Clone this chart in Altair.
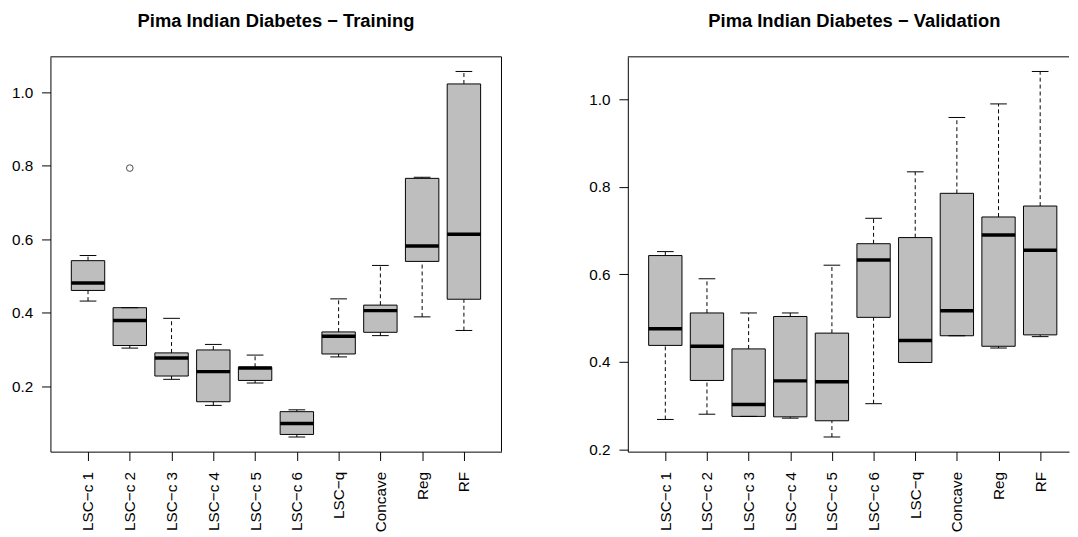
import altair as alt
import pandas as pd

methods = ["LSC−c 1", "LSC−c 2", "LSC−c 3", "LSC−c 4", "LSC−c 5",
           "LSC−c 6", "LSC−q", "Concave", "Reg", "RF"]

# Training panel (whisker low, Q1, median, Q3, whisker high)
train_low = [0.432, 0.304, 0.219, 0.148, 0.209, 0.062, 0.280, 0.338, 0.389, 0.352]
train_q1 = [0.461, 0.311, 0.228, 0.158, 0.216, 0.069, 0.288, 0.347, 0.540, 0.437]
train_med = [0.481, 0.379, 0.277, 0.240, 0.250, 0.099, 0.336, 0.406, 0.582, 0.614]
train_q3 = [0.542, 0.414, 0.291, 0.299, 0.252, 0.131, 0.348, 0.421, 0.766, 1.023]
train_up = [0.556, 0.414, 0.385, 0.314, 0.285, 0.136, 0.438, 0.529, 0.769, 1.057]
train_out_method = ["LSC−c 2"]
train_out_value = [0.794]

# Validation panel
val_low = [0.269, 0.281, 0.276, 0.272, 0.229, 0.305, 0.399, 0.460, 0.432, 0.458]
val_q1 = [0.438, 0.358, 0.276, 0.275, 0.266, 0.502, 0.399, 0.460, 0.436, 0.462]
val_med = [0.476, 0.436, 0.303, 0.357, 0.355, 0.633, 0.449, 0.517, 0.690, 0.655]
val_q3 = [0.643, 0.512, 0.430, 0.504, 0.466, 0.670, 0.684, 0.785, 0.731, 0.756]
val_up = [0.652, 0.590, 0.512, 0.512, 0.621, 0.728, 0.834, 0.958, 0.989, 1.063]
val_out_method = []
val_out_value = []

y_ticks = [0.2, 0.4, 0.6, 0.8, 1.0]
FONT = "Liberation Sans"
FILL = "#BEBEBE"
label_expr = "[" + ",".join("'%s'" % m for m in methods) + "][datum.value - 1]"


def panel(title, low, q1, med, q3, up, out_m, out_v, xdom, ydom, width, height,
          right_line, title_dx):
    df = pd.DataFrame({
        "method": methods,
        "pos": list(range(1, len(methods) + 1)),
        "low": low, "q1": q1, "med": med, "q3": q3, "up": up,
    })
    xscale = alt.Scale(domain=xdom, nice=False, zero=False)
    yscale = alt.Scale(domain=ydom, nice=False, zero=False)
    xaxis = alt.Axis(values=list(range(1, len(methods) + 1)), labelExpr=label_expr,
                     labelAngle=270, labelAlign="right", labelBaseline="middle",
                     labelFontSize=15.5, labelFont=FONT, labelColor="black",
                     tickSize=9, tickColor="black", labelPadding=11,
                     domain=True, domainColor="black", grid=False, title=None)
    yaxis = alt.Axis(values=y_ticks, format=".1f", labelFontSize=15.5, labelFont=FONT,
                     labelColor="black", tickSize=9, tickColor="black", labelPadding=9,
                     domain=True, domainColor="black", grid=False, title=None)

    def X(f):
        return alt.X(f, type="quantitative", scale=xscale, axis=xaxis, title=None)

    def Y(f):
        return alt.Y(f, type="quantitative", scale=yscale, axis=yaxis, title=None)

    base = alt.Chart(df).transform_calculate(
        bl="datum.pos - 0.4", br="datum.pos + 0.4",
        cl="datum.pos - 0.2", cr="datum.pos + 0.2")

    wl = base.mark_rule(color="black", strokeDash=[4, 3], strokeWidth=1).encode(
        x=X("pos"), y=Y("low"), y2="q1")
    wh = base.mark_rule(color="black", strokeDash=[4, 3], strokeWidth=1).encode(
        x=X("pos"), y=Y("q3"), y2="up")
    cap_lo = base.mark_rule(color="black", strokeWidth=1).encode(
        x=X("cl"), x2="cr", y=Y("low"))
    cap_hi = base.mark_rule(color="black", strokeWidth=1).encode(
        x=X("cl"), x2="cr", y=Y("up"))
    box = base.mark_rect(fill=FILL, stroke="black", strokeWidth=1).encode(
        x=X("bl"), x2="br", y=Y("q1"), y2="q3")
    medl = base.mark_rule(color="black", strokeWidth=3.5).encode(
        x=X("bl"), x2="br", y=Y("med"))

    layers = [wl, wh, box, medl, cap_lo, cap_hi]

    if out_m:
        odf = pd.DataFrame({"pos": [methods.index(m) + 1 for m in out_m], "value": out_v})
        pts = alt.Chart(odf).mark_point(shape="circle", filled=False, color="black",
                                        size=45, strokeWidth=1).encode(
            x=X("pos"), y=Y("value"))
        layers.append(pts)

    frame_df = pd.DataFrame({"k": [0]})
    top = alt.Chart(frame_df).mark_rule(color="black", strokeWidth=1).encode(
        x=alt.value(0), x2=alt.value(width), y=alt.value(0))
    layers.append(top)
    if right_line:
        rl = alt.Chart(frame_df).mark_rule(color="black", strokeWidth=1).encode(
            x=alt.value(width), y=alt.value(0), y2=alt.value(height))
        layers.append(rl)

    return alt.layer(*layers).properties(
        width=width, height=height,
        title=alt.TitleParams(title, fontSize=18.6, fontWeight="bold", font=FONT,
                              color="black", anchor="middle", baseline="alphabetic",
                              offset=11, dx=title_dx),
    )


H = 400
left = panel("Pima Indian Diabetes − Training", train_low, train_q1, train_med,
             train_q3, train_up, train_out_method, train_out_value,
             [0.1, 10.9], [0.0222, 1.0968], 457, H, True, 0)
W2 = 447
right = panel("Pima Indian Diabetes − Validation", val_low, val_q1, val_med,
              val_q3, val_up, val_out_method, val_out_value,
              [0.1, 0.1 + W2 / 42.2], [0.1956, 1.0964], W2, H, False, 6)

chart = alt.hconcat(left, right, spacing=87).properties(
    padding={"left": 3, "top": 0, "right": 0, "bottom": 0},
    background="white",
).configure_view(strokeWidth=0)

chart.save("out.html", embed_options={"renderer": "svg", "actions": False})
